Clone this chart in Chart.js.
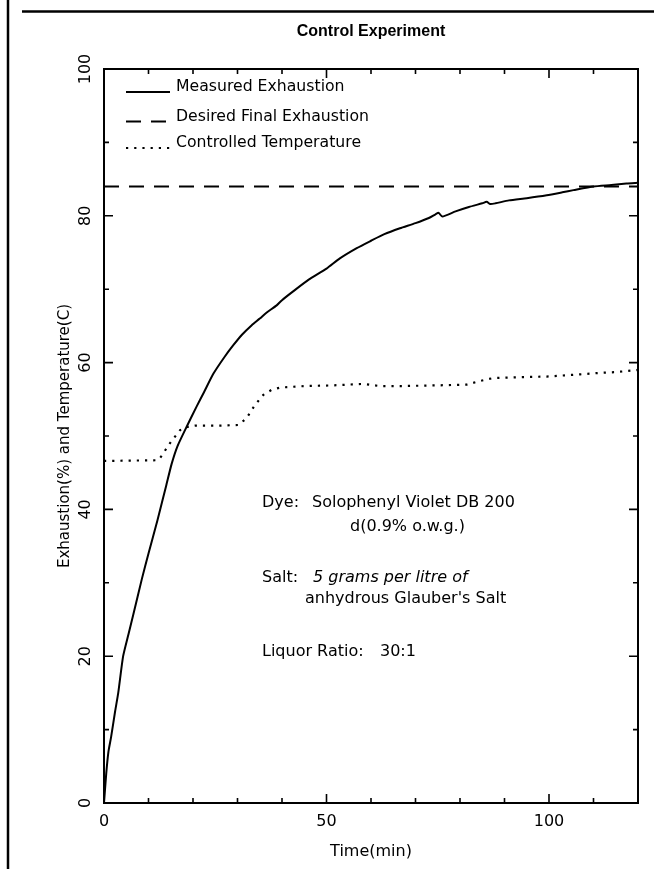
<!DOCTYPE html>
<html><head><meta charset="utf-8">
<script src="https://cdn.jsdelivr.net/npm/chart.js@4"></script>
<style>html,body{margin:0;padding:0;background:#fff;}canvas{display:block;}</style>
</head><body>
<canvas id="c" width="654" height="869"></canvas>
<script>
// ---- data ----
const measuredTime = [0, 0.5, 1, 1.6, 2.5, 3.2, 4.3, 5.5, 6.6, 8.5, 10, 12, 14, 15.2, 16.5, 18.6, 20.8, 22.5, 24.6, 27, 29.1, 31, 33.2, 35, 36.5, 38.8, 40, 42.5, 46, 50, 53, 56.8, 60, 63, 66.5, 70, 73, 74.5, 75.2, 76, 79, 82, 85, 86, 86.8, 88, 91, 95, 99.5, 103, 105.5, 110, 114, 117.4, 120];
const measuredExhaustion = [0, 4, 7, 9, 12.5, 15, 20, 23, 25.7, 30.5, 34, 38.5, 43.3, 46.2, 48.6, 51.3, 54, 56, 58.5, 60.7, 62.4, 63.8, 65.1, 66, 66.8, 67.8, 68.5, 69.7, 71.3, 72.8, 74.2, 75.6, 76.6, 77.5, 78.3, 79, 79.7, 80.2, 80.4, 79.9, 80.6, 81.2, 81.7, 81.9, 81.6, 81.7, 82.1, 82.4, 82.8, 83.2, 83.5, 84, 84.2, 84.4, 84.5];
const desiredTime = [0, 120];
const desiredExhaustion = [84, 84];
const tempTime = [0, 12, 12.6, 14.8, 17.1, 18.5, 20.4, 25, 30.2, 32, 33.9, 35.8, 37.7, 39.6, 45, 51.5, 58.3, 62, 66.5, 75, 81.5, 84.5, 87.5, 93, 99.5, 107, 111.5, 115, 120];
const controlledTemperature = [46.6, 46.7, 47, 49, 50.8, 51.2, 51.4, 51.4, 51.5, 52.4, 54.2, 55.6, 56.3, 56.6, 56.8, 56.9, 57.1, 56.8, 56.8, 56.9, 57, 57.5, 57.9, 58.0, 58.1, 58.4, 58.6, 58.7, 59];
const seriesLabels = ['Measured Exhaustion', 'Desired Final Exhaustion', 'Controlled Temperature'];
const xTickValues = [0, 50, 100];
const xMinorTickValues = [10, 20, 30, 40, 60, 70, 80, 90, 110];
const yTickValues = [0, 20, 40, 60, 80, 100];
const yMinorTickValues = [10, 30, 50, 70, 90];
const chartTitle = 'Control Experiment';
const xTitle = 'Time(min)';
const yTitle = 'Exhaustion(%) and Temperature(C)';

const FONT = '"DejaVu Sans", "Noto Sans", sans-serif';
const pts = (xs, ys) => xs.map((t, i) => ({x: t, y: ys[i]}));

const decor = {
  id: 'decor',
  beforeDraw(chart) {
    const ctx = chart.ctx;
    ctx.save();
    ctx.fillStyle = '#fff';
    ctx.fillRect(0, 0, chart.width, chart.height);
    ctx.strokeStyle = '#000';
    ctx.lineWidth = 2.5;
    ctx.beginPath(); ctx.moveTo(8, 0); ctx.lineTo(8, chart.height); ctx.stroke();
    ctx.beginPath(); ctx.moveTo(22, 11.5); ctx.lineTo(chart.width, 11.5); ctx.stroke();
    ctx.restore();
  },
  afterDraw(chart) {
    const {ctx, chartArea: a, scales: {x, y}} = chart;
    ctx.save();
    ctx.strokeStyle = '#000';
    ctx.lineWidth = 2;
    ctx.strokeRect(a.left, a.top, a.right - a.left, a.bottom - a.top);
    ctx.lineWidth = 1.6;
    const xt = (v, len) => {
      const px = x.getPixelForValue(v);
      ctx.beginPath();
      ctx.moveTo(px, a.bottom); ctx.lineTo(px, a.bottom - len);
      ctx.moveTo(px, a.top); ctx.lineTo(px, a.top + len);
      ctx.stroke();
    };
    const yt = (v, len) => {
      const py = y.getPixelForValue(v);
      ctx.beginPath();
      ctx.moveTo(a.left, py); ctx.lineTo(a.left + len, py);
      ctx.moveTo(a.right, py); ctx.lineTo(a.right - len, py);
      ctx.stroke();
    };
    xTickValues.forEach(v => xt(v, 9));
    xMinorTickValues.forEach(v => xt(v, 5));
    yTickValues.forEach(v => yt(v, 9));
    yMinorTickValues.forEach(v => yt(v, 5));

    // legend inside the plot
    const legendY = [87, 116.5, 143];
    ctx.font = '15.7px ' + FONT;
    ctx.textBaseline = 'middle';
    ctx.textAlign = 'left';
    ctx.fillStyle = '#000';
    chart.data.datasets.forEach((ds, i) => {
      const ly = legendY[i];
      ctx.save();
      ctx.strokeStyle = ds.borderColor;
      ctx.lineWidth = ds.borderWidth;
      ctx.setLineDash(ds.borderDash || []);
      ctx.beginPath();
      ctx.moveTo(126, ly + 5); ctx.lineTo(170, ly + 5);
      ctx.stroke();
      ctx.restore();
      ctx.fillText(ds.label, 176, ly);
    });

    // annotation block
    const put = (txt, px, py, italic) => {
      ctx.font = (italic ? 'italic ' : '') + '16px ' + FONT;
      ctx.fillText(txt, px, py);
    };
    put('Dye:', 262, 503);
    put('Solophenyl Violet DB 200', 312, 503);
    put('d(0.9% o.w.g.)', 350, 527);
    put('Salt:', 262, 578);
    put('5 grams per litre of', 313, 578, true);
    put("anhydrous Glauber's Salt", 305, 599);
    put('Liquor Ratio:', 262, 652);
    put('30:1', 380, 652);
    ctx.restore();
  }
};

new Chart(document.getElementById('c'), {
  type: 'line',
  data: {
    datasets: [
      {label: seriesLabels[0], data: pts(measuredTime, measuredExhaustion), borderColor: '#000', borderWidth: 2, pointRadius: 0, fill: false, tension: 0.2},
      {label: seriesLabels[1], data: pts(desiredTime, desiredExhaustion), borderColor: '#000', borderWidth: 2, borderDash: [15, 10], pointRadius: 0, fill: false},
      {label: seriesLabels[2], data: pts(tempTime, controlledTemperature), borderColor: '#000', borderWidth: 2.2, borderDash: [2.2, 6], pointRadius: 0, fill: false, tension: 0}
    ]
  },
  options: {
    responsive: false,
    animation: false,
    devicePixelRatio: 1,
    layout: {padding: {left: 0, right: 16, top: 0, bottom: 0}},
    plugins: {
      legend: {display: false},
      tooltip: {enabled: false},
      title: {display: true, text: chartTitle, fullSize: false, color: '#000',
        font: {family: '"Liberation Sans", Arial, sans-serif', size: 16, weight: 'bold'},
        padding: {top: 22.4, bottom: 27.4}}
    },
    scales: {
      x: {
        type: 'linear', min: 0, max: 120,
        afterBuildTicks: s => { s.ticks = xTickValues.map(v => ({value: v})); },
        grid: {display: false, drawTicks: false}, border: {display: false},
        ticks: {font: {family: FONT, size: 16}, color: '#000', padding: 9, maxRotation: 0, autoSkip: false},
        title: {display: true, text: xTitle, color: '#000', font: {family: FONT, size: 16}, padding: {top: 0, bottom: 8}},
        afterFit: s => { s.height = 66; }
      },
      y: {
        type: 'linear', min: 0, max: 100,
        afterBuildTicks: s => { s.ticks = yTickValues.map(v => ({value: v})); },
        grid: {display: false, drawTicks: false}, border: {display: false},
        ticks: {font: {family: FONT, size: 16}, color: '#000', minRotation: 90, maxRotation: 90, crossAlign: 'center', padding: 3, autoSkip: false},
        title: {display: true, text: yTitle, color: '#000', font: {family: FONT, size: 15}, padding: {top: 56, bottom: 0}},
        afterFit: s => { s.width = 104; }
      }
    }
  },
  plugins: [decor]
});
</script>
</body></html>
